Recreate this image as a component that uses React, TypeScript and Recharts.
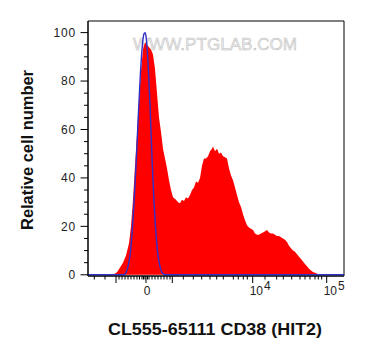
import { ComposedChart, Area, Line, XAxis, YAxis, ReferenceArea, Label } from 'recharts'

// channel = display position along the biexponential axis (0..256)
const sampleChannel = [
  0, 25, 29, 32, 35, 38, 41, 43, 45, 47, 49, 51, 53, 55, 57, 59, 61, 63, 65, 67, 69, 71, 73, 75, 77, 79,
  81, 83, 85, 88, 90, 92, 94, 96, 98, 100, 102, 104, 106, 108, 110, 112, 114, 116, 118, 120, 122, 124,
  125, 127, 129, 131, 133, 135, 137, 139, 141, 143, 145, 147, 149, 151, 153, 155, 157, 159, 161, 163,
  165, 167, 169, 171, 173, 175, 177, 179, 181, 183, 185, 187, 189, 191, 193, 195, 197, 199, 201, 203,
  205, 207, 209, 211, 213, 215, 217, 219, 221, 223, 225, 227, 229, 231, 233, 256,
]
const sampleCount = [
  0, 0, 1, 3, 5, 8, 13, 20, 31, 45, 58, 72, 84, 93, 96, 95, 94, 93, 91, 85, 75, 65, 59, 52, 48, 44,
  39, 35, 32, 31, 30, 29.5, 31, 30.5, 32, 31.5, 33, 35, 36, 38.5, 38, 40, 45, 48, 48, 49, 51, 52,
  53, 51, 52, 50, 50.5, 49, 48.5, 48, 44, 41, 39, 36, 33, 30, 28, 25, 22.5, 20.5, 19.5, 19,
  18.5, 17, 16.5, 16.5, 17, 17.5, 18, 18.5, 17.5, 17, 17, 16.5, 16, 16, 15.5, 15, 14.5, 13.5, 12, 11,
  10, 9.5, 8.5, 7.5, 6.5, 5.5, 4.5, 3.5, 2.5, 1.8, 1.2, 0.8, 0.4, 0.2, 0, 0,
]

const isotypeChannel = [0, 36, 38, 40, 42, 44, 46, 48, 50, 52, 54, 56, 57, 58, 60, 62, 64, 66, 68, 70, 72, 74, 76, 78, 256]
const isotypeCount = [0, 0, 1, 3.4, 8, 17, 30, 45, 63, 80, 93, 99.5, 100, 98.5, 88, 70, 48, 30, 17, 8, 3.4, 1, 0.2, 0, 0]

const yTicks = [0, 5, 10, 15, 20, 25, 30, 35, 40, 45, 50, 55, 60, 65, 70, 75, 80, 85, 90, 95, 100]
const yLabelTicks = [0, 20, 40, 60, 80, 100]

const xMinorTicks = [
  6.3, 17, 31, 34, 37, 40, 43, 46, 49, 51.5, 54, 55.5, 57, 59.5, 61, 64, 67, 70, 73, 76, 79, 82,
  95.3, 105.3, 113.7, 122, 128.7, 135.3, 145.3, 150.3, 155.3, 159.3,
  177, 188.7, 195.3, 203.7, 212, 217, 222, 227, 230.3, 233.7,
]
const xMajorTicks = [28, 58, 84.3, 164.7, 238.7]
const xLabelTicks = [58, 164.7, 238.7]
const xLabelBase = ['0', '10', '10']
const xLabelExp = ['', '4', '5']

const FONT = 'Liberation Sans, Arial, sans-serif'

const table = (() => {
  const rows: Record<number, { channel: number; sample?: number; isotype?: number }> = {}
  sampleChannel.forEach((c, i) => {
    rows[c] = { ...(rows[c] || { channel: c }), sample: sampleCount[i] }
  })
  isotypeChannel.forEach((c, i) => {
    rows[c] = { ...(rows[c] || { channel: c }), isotype: isotypeCount[i] }
  })
  return Object.values(rows).sort((a, b) => a.channel - b.channel)
})()

function XTick(props: any) {
  const { x, y, payload } = props
  const v = payload.value
  const major = xMajorTicks.includes(v)
  const i = xLabelTicks.indexOf(v)
  return (
    <g>
      <line x1={x} x2={x} y1={y} y2={y + (major ? 7 : 3.5)} stroke="#000" strokeWidth={1} />
      {i === 0 && (
        <text x={x + 1} y={y + 19} textAnchor="middle" fontSize={12} fontFamily={FONT} fill="#222">
          {xLabelBase[i]}
        </text>
      )}
      {i > 0 && (
        <text x={x - 3} y={y + 19} textAnchor="start" fontSize={12} fontFamily={FONT} fill="#222">
          {xLabelBase[i]}
          <tspan dx={1} dy={-5}>{xLabelExp[i]}</tspan>
        </text>
      )}
    </g>
  )
}

function YTick(props: any) {
  const { x, y, payload } = props
  const v = payload.value
  const major = yLabelTicks.includes(v)
  return (
    <g>
      <line x1={x - (major ? 7.5 : 4)} x2={x} y1={y} y2={y} stroke="#000" strokeWidth={1} />
      {major && (
        <text x={x - 12} y={y + 4.3} textAnchor="end" fontSize={12} letterSpacing={0.8} fontFamily={FONT} fill="#222">
          {v}
        </text>
      )}
    </g>
  )
}

const XTitle = () => (
  <text x={215} y={335} textAnchor="middle" fontSize={16} fontWeight="bold" fontFamily={FONT} fill="#111"
    textLength={214} lengthAdjust="spacingAndGlyphs">
    CL555-65111 CD38 (HIT2)
  </text>
)

const YTitle = () => (
  <text x={33} y={150} transform="rotate(-90, 33, 150)" textAnchor="middle" fontSize={16} fontWeight="bold"
    fontFamily={FONT} fill="#111" textLength={160} lengthAdjust="spacingAndGlyphs">
    Relative cell number
  </text>
)

export default function App() {
  return (
    <div style={{ position: 'absolute', left: 0, top: 0, width: 365, height: 360, background: '#fff' }}>
      <svg width={365} height={360} style={{ position: 'absolute', left: 0, top: 0 }}>
        <text x={133} y={50} fontSize={17} fontFamily={FONT} fill="#ececec" stroke="#bdbdbd" strokeWidth={0.5}
          textLength={164} lengthAdjust="spacingAndGlyphs">
          WWW.PTGLAB.COM
        </text>
      </svg>
      <div style={{ position: 'absolute', left: 0, top: 0 }}>
        <ComposedChart width={365} height={360} data={table} margin={{ top: 21, right: 21, left: 0, bottom: 0 }}>
          <XAxis
            dataKey="channel"
            type="number"
            domain={[0, 256]}
            ticks={[...xMinorTicks, ...xMajorTicks].sort((a, b) => a - b)}
            interval={0}
            tickSize={0}
            tickMargin={0}
            tickLine={false}
            tick={XTick}
            height={84}
            axisLine={{ stroke: '#000' }}
          >
            <Label content={XTitle} />
          </XAxis>
          <YAxis
            type="number"
            domain={[-0.5, 104.8]}
            allowDataOverflow
            ticks={yTicks}
            interval={0}
            tickSize={0}
            tickMargin={0}
            tickLine={false}
            tick={YTick}
            width={88}
            axisLine={{ stroke: '#000' }}
          >
            <Label content={YTitle} />
          </YAxis>
          <Area
            type="linear"
            dataKey="sample"
            fill="#ff0000"
            fillOpacity={1}
            stroke="none"
            connectNulls
            isAnimationActive={false}
          />
          <Line
            type="monotone"
            dataKey="isotype"
            stroke="#3030c8"
            strokeWidth={1.4}
            dot={false}
            connectNulls
            isAnimationActive={false}
          />
          <ReferenceArea x1={0} x2={256} y1={-0.5} y2={104.8} fill="none" stroke="#000" strokeWidth={1} ifOverflow="visible" />
        </ComposedChart>
      </div>
    </div>
  )
}
